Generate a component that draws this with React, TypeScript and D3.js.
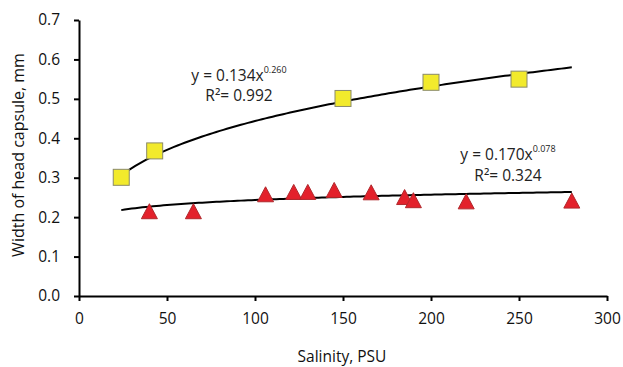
import React, { useRef, useEffect } from 'react';
import * as d3 from 'd3';

// Yellow squares
const squareSalinity = [24, 43, 150, 200, 250];
const squareWidth = [0.301, 0.368, 0.501, 0.542, 0.55];

// Red triangles
const triangleSalinity = [40, 65, 106, 122, 130, 145, 166, 185, 190, 220, 280];
const triangleWidth = [0.215, 0.215, 0.258, 0.264, 0.264, 0.269, 0.263, 0.251, 0.243, 0.24, 0.242];

// Power trend lines y = a * x^b, drawn over the fitted x range
const squareFit = { a: 0.134, b: 0.26, r2: '0.992', label: 'y = 0.134x', exp: '0.260' };
const triangleFit = { a: 0.17, b: 0.078, r2: '0.324', label: 'y = 0.170x', exp: '0.078' };
const fitRange: [number, number] = [24, 280];

const xTicks = [0, 50, 100, 150, 200, 250, 300];
const yTicks = [0, 0.1, 0.2, 0.3, 0.4, 0.5, 0.6, 0.7];

const width = 623;
const height = 367;
const margin = { top: 20, right: 16, bottom: 71, left: 79 };
const font = "'Open Sans', sans-serif";

const App: React.FC = () => {
  const svgRef = useRef<SVGSVGElement>(null);

  useEffect(() => {
    const svg = d3.select(svgRef.current);
    svg.selectAll('*').remove();

    const innerWidth = width - margin.left - margin.right;
    const innerHeight = height - margin.top - margin.bottom;

    const x = d3.scaleLinear().domain([0, 300]).range([0, innerWidth]);
    const y = d3.scaleLinear().domain([0, 0.7]).range([innerHeight, 0]);

    const g = svg.append('g').attr('transform', `translate(${margin.left},${margin.top})`);

    // Axes
    const xAxis = g.append('g')
      .attr('transform', `translate(0,${innerHeight})`)
      .call(d3.axisBottom(x).tickValues(xTicks).tickSize(5).tickPadding(12).tickSizeOuter(0));
    const yAxis = g.append('g')
      .call(d3.axisLeft(y).tickValues(yTicks).tickSize(5).tickPadding(14).tickSizeOuter(0).tickFormat(d3.format('.1f')));

    [xAxis, yAxis].forEach(ax => {
      ax.selectAll('.domain, .tick line').attr('stroke', '#000').attr('stroke-width', 2);
      ax.selectAll('text').attr('fill', '#111').style('font-family', font).style('font-size', '15.5px');
    });

    // Trend lines
    const line = d3.line<[number, number]>().x(d => x(d[0])).y(d => y(d[1]));
    const xs = d3.range(fitRange[0], fitRange[1] + 0.5, 2);
    [squareFit, triangleFit].forEach(f => {
      const pts: [number, number][] = xs.map(v => [v, f.a * Math.pow(v, f.b)]);
      g.append('path')
        .datum(pts)
        .attr('fill', 'none')
        .attr('stroke', '#000')
        .attr('stroke-width', 2)
        .attr('d', line);
    });

    // Squares
    const s = 16;
    g.selectAll('.sq')
      .data(squareSalinity)
      .enter()
      .append('rect')
      .attr('x', (d) => x(d) - s / 2)
      .attr('y', (_, i) => y(squareWidth[i]) - s / 2)
      .attr('width', s)
      .attr('height', s)
      .attr('fill', '#f2ea2c')
      .attr('stroke', '#8a8a6a')
      .attr('stroke-width', 1);

    // Triangles
    const tw = 16;
    const th = 15;
    g.selectAll('.tri')
      .data(triangleSalinity)
      .enter()
      .append('path')
      .attr('d', (d, i) => {
        const cx = x(d);
        const cy = y(triangleWidth[i]);
        return `M${cx},${cy - th / 2}L${cx + tw / 2},${cy + th / 2}L${cx - tw / 2},${cy + th / 2}Z`;
      })
      .attr('fill', '#e3212b')
      .attr('stroke', '#b0282c')
      .attr('stroke-width', 1);

    // Equation labels
    const addEquation = (f: typeof squareFit, cx: number, base1: number, base2: number) => {
      const t1 = g.append('text')
        .attr('x', cx)
        .attr('y', base1)
        .attr('text-anchor', 'middle')
        .style('font-family', font)
        .style('font-size', '15.5px')
        .attr('fill', '#222');
      t1.append('tspan').text(f.label);
      t1.append('tspan').attr('dy', -8).style('font-size', '9px').text(f.exp);

      g.append('text')
        .attr('x', cx)
        .attr('y', base2)
        .attr('text-anchor', 'middle')
        .style('font-family', font)
        .style('font-size', '15.5px')
        .attr('fill', '#222')
        .text('R\u00b2= ' + f.r2);
    };

    addEquation(squareFit, 239 - margin.left, 81 - margin.top, 101 - margin.top);
    addEquation(triangleFit, 508 - margin.left, 160 - margin.top, 181 - margin.top);

    // Axis titles
    g.append('text')
      .attr('x', 342 - margin.left)
      .attr('y', innerHeight + 66)
      .attr('text-anchor', 'middle')
      .style('font-family', font)
      .style('font-size', '15.5px')
      .attr('fill', '#111')
      .text('Salinity, PSU');

    g.append('text')
      .attr('transform', 'rotate(-90)')
      .attr('x', -(155 - margin.top))
      .attr('y', 24 - margin.left)
      .attr('text-anchor', 'middle')
      .style('font-family', font)
      .style('font-size', '16px')
      .attr('fill', '#111')
      .text('Width of head capsule, mm');
  }, []);

  return (
    <div style={{ position: 'fixed', top: 0, left: 0, background: '#fff' }}>
      <svg ref={svgRef} width={width} height={height} style={{ display: 'block' }} />
    </div>
  );
};

export default App;
